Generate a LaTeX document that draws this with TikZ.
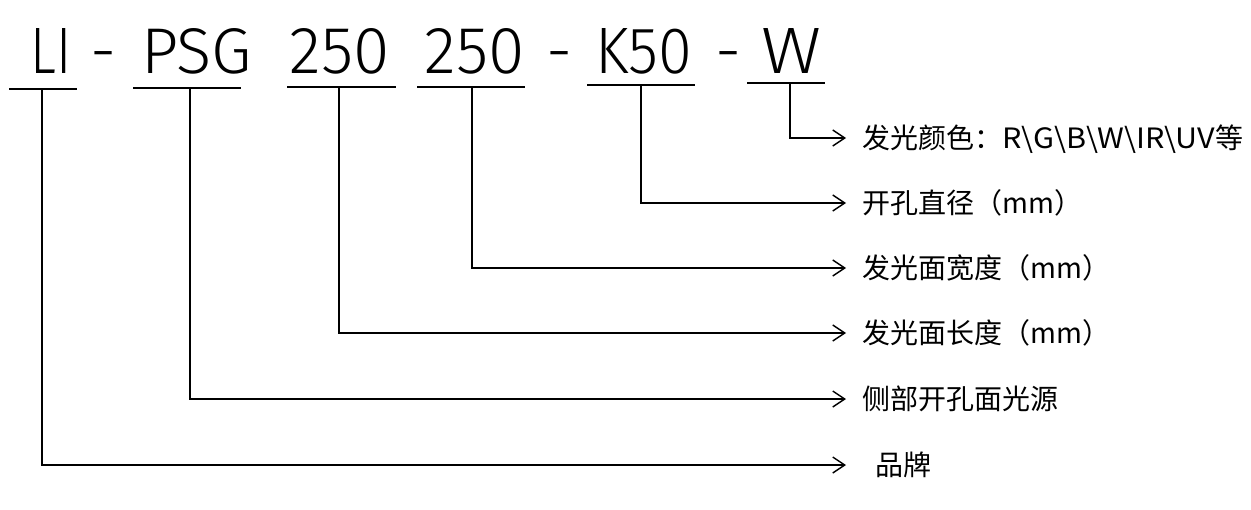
\documentclass[tikz,border=0pt]{standalone}
\usepackage{fontspec}
\setmainfont{Liberation Sans}
\newfontfamily\cjk{Noto Sans CJK SC}
\newfontfamily\topfont{Fira Sans Light}
\usetikzlibrary{arrows.meta}
\begin{document}
\begin{tikzpicture}[x=1pt,y=-1pt,
  code/.style={inner sep=0pt,anchor=base,font=\topfont\fontsize{65}{65}\selectfont},
  lab/.style={inner sep=0pt,anchor=base west,font=\cjk\fontsize{28}{28}\selectfont},
  uline/.style={line width=2pt},
  conn/.style={line width=1.4pt,-{Straight Barb[length=12pt,width=16pt,line width=1.4pt]}}]
\useasboundingbox (0,0) rectangle (1251,509);
% top code
\node[code] (cLI)  at (51.5,73)  {\resizebox{41pt}{45pt}{LI}};
\node[code] (d1)   at (103.5,73) {-};
\node[code] (cPSG) at (196.5,73) {\resizebox{111pt}{45pt}{PSG}};
\node[code] (cA)   at (339.5,73) {\resizebox{100pt}{45pt}{250}};
\node[code] (cB)   at (474.5,73) {\resizebox{100pt}{45pt}{250}};
\node[code] (d2)   at (559.5,73) {-};
\node[code] (cK)   at (643.5,73) {\resizebox{97pt}{45pt}{K50}};
\node[code] (d3)   at (728.5,73) {-};
\node[code] (cW)   at (791,73)   {\resizebox{60pt}{45pt}{W}};
% underlines
\coordinate (uLIa) at (9,89);   \coordinate (uLIb) at (77,89);
\coordinate (uPa) at (133,88);  \coordinate (uPb) at (241,88);
\coordinate (uAa) at (287,87);  \coordinate (uAb) at (396,87);
\coordinate (uBa) at (417,87);  \coordinate (uBb) at (525,87);
\coordinate (uKa) at (587,85);  \coordinate (uKb) at (695,85);
\coordinate (uWa) at (747,83);  \coordinate (uWb) at (825,83);
\foreach \u in {LI,P,A,B,K,W} \draw[uline] (u\u a) -- (u\u b);
% connector starts
\coordinate (vLI) at (42,89);
\coordinate (vP)  at (190,88);
\coordinate (vA)  at (339,87);
\coordinate (vB)  at (472,87);
\coordinate (vK)  at (641,85);
\coordinate (vW)  at (790,83);
% arrow tips
\coordinate (tW)  at (846,138);
\coordinate (tK)  at (846,203);
\coordinate (tB)  at (846,268);
\coordinate (tA)  at (846,333);
\coordinate (tP)  at (846,399);
\coordinate (tLI) at (846,465);
% labels
\node[lab] (lW)  at (862,148) {发光颜色：\scalebox{1.09}[1]{R\textbackslash G\textbackslash B\textbackslash W\textbackslash IR\textbackslash UV}等};
\node[lab] (lK)  at (862,213) {开孔直径（mm）};
\node[lab] (lB)  at (862,278) {发光面宽度（mm）};
\node[lab] (lA)  at (862,343) {发光面长度（mm）};
\node[lab] (lP)  at (862,409) {侧部开孔面光源};
\node[lab] (lLI) at (875,475) {品牌};
% connectors
\foreach \u in {LI,P,A,B,K,W} \draw[conn] (v\u) |- (t\u);
\end{tikzpicture}
\end{document}
